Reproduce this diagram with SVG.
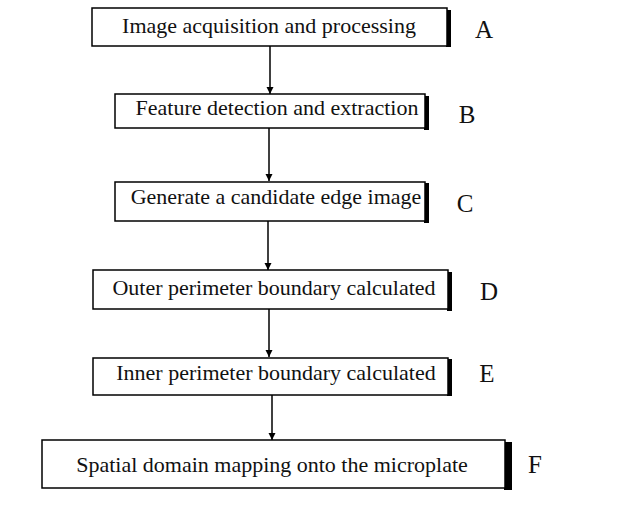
<svg xmlns="http://www.w3.org/2000/svg" width="621" height="509" viewBox="0 0 621 509">
<defs>
<style>
.box{fill:#fff;stroke:#000;stroke-width:1.5}
.sh{fill:#000}
.t{font-family:"Liberation Serif","Times New Roman",serif;font-size:22px;fill:#111}
.lbl{font-family:"Liberation Serif","Times New Roman",serif;font-size:25px;fill:#111}
.c{stroke:#000;stroke-width:1.5;fill:none}
</style>
<marker id="ah" viewBox="0 0 10 10" refX="10" refY="5" markerWidth="7" markerHeight="10" markerUnits="userSpaceOnUse" orient="auto">
<path d="M0,0 L10,5 L0,10 z" fill="#000"/>
</marker>
</defs>
<rect width="621" height="509" fill="#fff"/>
<g id="connectors">
<line class="c" x1="270" y1="46" x2="270" y2="94" marker-end="url(#ah)"/>
<line class="c" x1="269" y1="128" x2="269" y2="181" marker-end="url(#ah)"/>
<line class="c" x1="268" y1="221" x2="268" y2="270" marker-end="url(#ah)"/>
<line class="c" x1="269" y1="309" x2="269" y2="357" marker-end="url(#ah)"/>
<line class="c" x1="272" y1="394" x2="272" y2="440" marker-end="url(#ah)"/>
</g>
<g id="nodeA">
<rect class="sh" x="446" y="10" width="5" height="37"/>
<rect class="box" x="92" y="8" width="355" height="38"/>
<text class="t" x="269" y="33" text-anchor="middle">Image acquisition and processing</text>
<text class="lbl" x="484" y="38" text-anchor="middle">A</text>
</g>
<g id="nodeB">
<rect class="sh" x="424" y="96" width="5" height="34"/>
<rect class="box" x="115" y="94" width="310" height="34"/>
<text class="t" x="277" y="115" text-anchor="middle">Feature detection and extraction</text>
<text class="lbl" x="467" y="123" text-anchor="middle">B</text>
</g>
<g id="nodeC">
<rect class="sh" x="424" y="183" width="5" height="40"/>
<rect class="box" x="115" y="182" width="310" height="39"/>
<text class="t" x="276" y="204" text-anchor="middle">Generate a candidate edge image</text>
<text class="lbl" x="465" y="212" text-anchor="middle">C</text>
</g>
<g id="nodeD">
<rect class="sh" x="447" y="272" width="5" height="39"/>
<rect class="box" x="93" y="270" width="355" height="39"/>
<text class="t" x="274" y="295" text-anchor="middle">Outer perimeter boundary calculated</text>
<text class="lbl" x="489" y="300" text-anchor="middle">D</text>
</g>
<g id="nodeE">
<rect class="sh" x="447" y="359" width="5" height="37"/>
<rect class="box" x="93" y="358" width="355" height="37"/>
<text class="t" x="276" y="380" text-anchor="middle">Inner perimeter boundary calculated</text>
<text class="lbl" x="487" y="382" text-anchor="middle">E</text>
</g>
<g id="nodeF">
<rect class="sh" x="504" y="442" width="8" height="48"/>
<rect class="box" x="42" y="440" width="463" height="48"/>
<text class="t" x="272" y="472" text-anchor="middle">Spatial domain mapping onto the microplate</text>
<text class="lbl" x="535" y="473" text-anchor="middle">F</text>
</g>
</svg>
